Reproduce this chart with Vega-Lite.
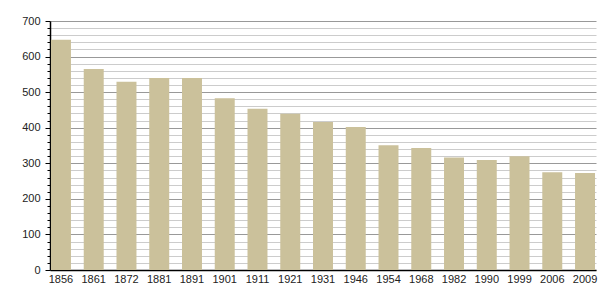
{
  "$schema": "https://vega.github.io/schema/vega-lite/v6.json",
  "width": 546,
  "height": 249,
  "autosize": {"type": "none"},
  "padding": {"left": 50, "top": 21, "right": 9, "bottom": 30},
  "background": "white",
  "data": {"values": [
    {"year": "1856", "pop": 647},
    {"year": "1861", "pop": 565},
    {"year": "1872", "pop": 529},
    {"year": "1881", "pop": 540},
    {"year": "1891", "pop": 540},
    {"year": "1901", "pop": 483},
    {"year": "1911", "pop": 453},
    {"year": "1921", "pop": 439},
    {"year": "1931", "pop": 416},
    {"year": "1946", "pop": 402},
    {"year": "1954", "pop": 351},
    {"year": "1968", "pop": 343},
    {"year": "1982", "pop": 316},
    {"year": "1990", "pop": 309},
    {"year": "1999", "pop": 320},
    {"year": "2006", "pop": 275},
    {"year": "2009", "pop": 273}
  ]},
  "config": {
    "view": {"stroke": null},
    "font": "Liberation Sans"
  },
  "mark": {"type": "bar", "color": "#cbc19b"},
  "encoding": {
    "x": {
      "field": "year", "type": "ordinal", "sort": null,
      "scale": {"paddingInner": 0.39, "paddingOuter": 0.03},
      "axis": {
        "title": null, "labelAngle": 0, "ticks": false, "domainColor": "#000", "domainWidth": 1.5,
        "labelFontSize": 11, "labelColor": "#222", "labelPadding": 3
      }
    },
    "y": {
      "field": "pop", "type": "quantitative",
      "scale": {"domain": [0, 700], "nice": false},
      "axis": {
        "title": null,
        "values": [0,20,40,60,80,100,120,140,160,180,200,220,240,260,280,300,320,340,360,380,400,420,440,460,480,500,520,540,560,580,600,620,640,660,680,700],
        "labelExpr": "datum.value % 100 === 0 ? datum.label : ''",
        "grid": true,
        "gridColor": {"condition": {"test": "datum.value % 100 === 0", "value": "#999999"}, "value": "#cccccc"},
        "gridWidth": 1,
        "tickColor": "#000",
        "tickSize": {"condition": {"test": "datum.value % 100 === 0", "value": 5}, "value": 3},
        "domainColor": "#000", "domainWidth": 1.5,
        "labelFontSize": 11, "labelColor": "#222", "labelPadding": 5
      }
    }
  }
}
